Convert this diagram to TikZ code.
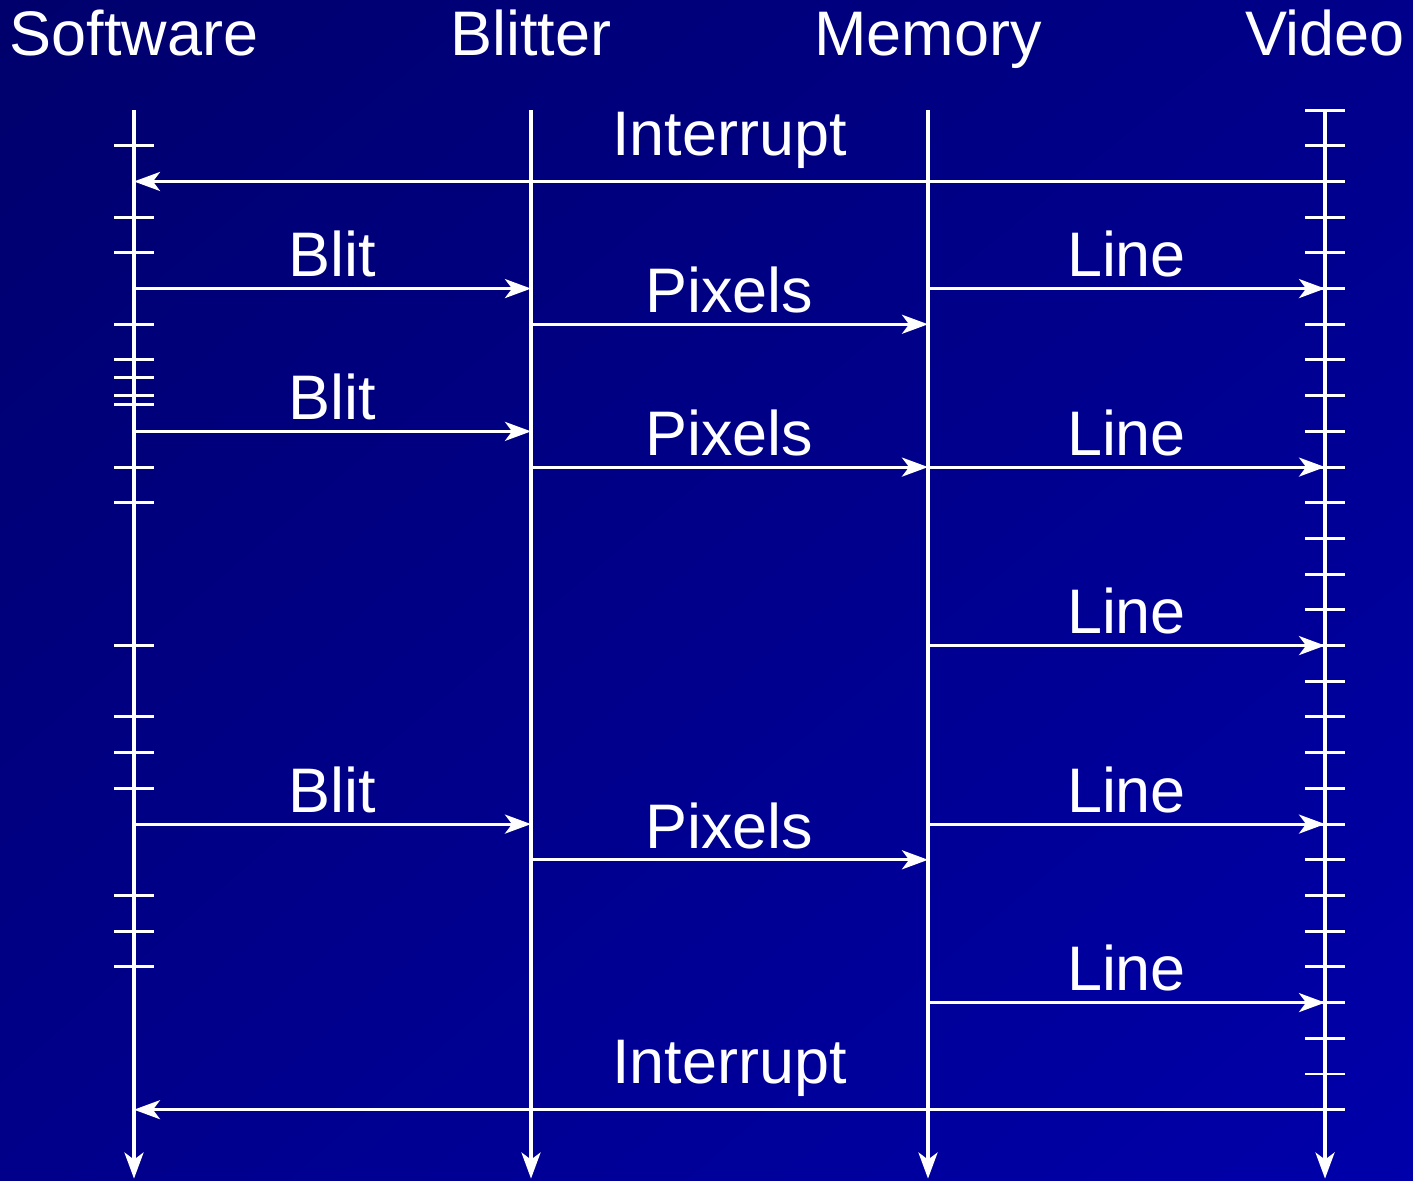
\documentclass[tikz,border=0pt]{standalone}
\usepackage{fontspec}
\setmainfont{Liberation Sans}
\usetikzlibrary{arrows.meta,positioning,calc,shadings}
\definecolor{bgdark}{RGB}{0,0,108}
\definecolor{bgmid}{RGB}{0,0,138}
\definecolor{bglight}{RGB}{0,0,170}
\tikzset{
  every picture/.style={font=\fontsize{17.9}{21}\selectfont},
  tip/.style={-{Stealth[length=7.4pt,width=5.4pt,inset=2pt]}},
  life/.style={draw=white,line width=1pt,tip},
  msg/.style={draw=white,line width=0.85pt,tip},
  tickmark/.style={draw=white,line width=0.85pt},
  head/.style={anchor=base,text=white,inner sep=0pt},
  lbl/.style={midway,anchor=base,text=white,inner sep=0pt,yshift=3.3pt},
  farlbl/.style={lbl,yshift=4.2pt},
}

\begin{document}
\begin{tikzpicture}[x=0.01cm,y=-0.3568cm]
  % background
  \useasboundingbox (0,-3.083) rectangle (1413,29.989);
  \shade[upper left=bgdark,lower right=bglight,upper right=bgmid,lower left=bgmid]
    (0,-3.083) rectangle (1413,29.989);
  % lifelines
  \foreach \n/\x/\t in {sw/134/Software,bl/531/Blitter,mem/928/Memory,vid/1325/Video}{
    \node[head] (\n) at (\x,-1.54) {\t};
    \coordinate (\n0) at (\x,0);
    \coordinate (\n1) at (\x,29.93);
    \draw[life] (\n0) -- (\n1);
  }
  % ticks
  \foreach \r in {1,3,4,6,7,7.5,8,8.25,10,11,15,17,18,19,22,23,24}
    \draw[tickmark] (114,\r) -- (154,\r);
  \foreach \r in {0,...,28}
    \draw[tickmark] (1305,\r) -- (1345,\r);
  % messages
  \foreach \r in {2,28}
    \draw[msg] (vid0 |- 0,\r) -- node[farlbl] {Interrupt} (sw0 |- 0,\r);
  \foreach \r in {5,9,20}
    \draw[msg] (sw0 |- 0,\r) -- node[lbl] {Blit} (bl0 |- 0,\r);
  \foreach \r in {6,10,21}
    \draw[msg] (bl0 |- 0,\r) -- node[lbl] {Pixels} (mem0 |- 0,\r);
  \foreach \r in {5,10,15,20,25}
    \draw[msg] (mem0 |- 0,\r) -- node[lbl] {Line} (vid0 |- 0,\r);
\end{tikzpicture}
\end{document}
